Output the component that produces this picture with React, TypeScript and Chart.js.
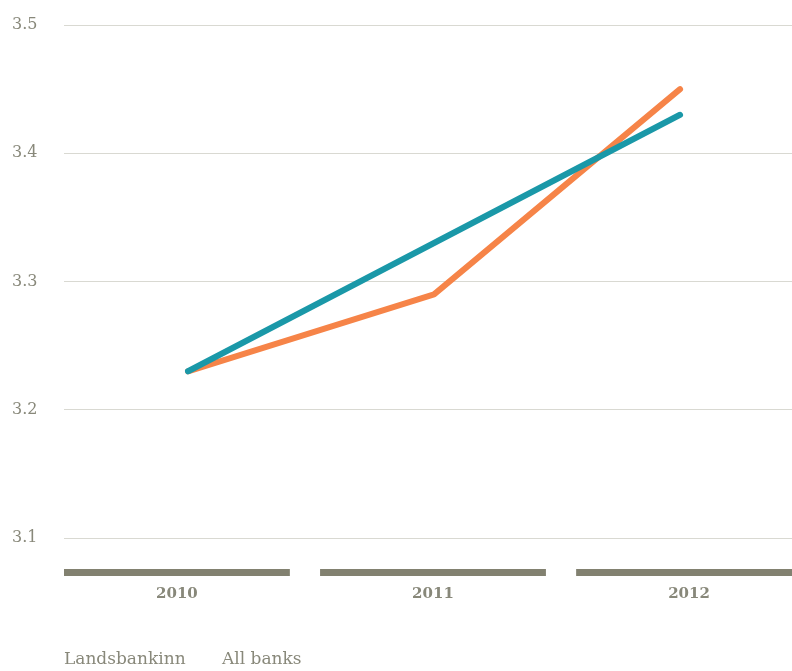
import React, { useEffect, useRef } from "react";
import { Chart, registerables } from "chart.js";
Chart.register(...registerables);

const years = ["2010", "2011", "2012"];
const landsbankinn = [3.23, 3.33, 3.43];
const allBanks = [3.23, 3.29, 3.45];
const yTicks = [3.1, 3.2, 3.3, 3.4, 3.5];
const seriesNames = ["Landsbankinn", "All banks"];

const GRAY = "#88887a";
const BAR = "#828170";
const TEAL = "#1a98a8";
const ORANGE = "#f68448";

const axisBars = {
  id: "axisBars",
  beforeDatasetsDraw(chart: any) {
    const xc = chart.scales.xc;
    const ctx = chart.ctx;
    const bottom = chart.chartArea.bottom;
    ctx.save();
    ctx.fillStyle = BAR;
    years.forEach((_, i) => {
      const x0 = xc.getPixelForValue(i - 0.441);
      const x1 = xc.getPixelForValue(i + 0.441);
      ctx.fillRect(x0, bottom + 31, x1 - x0, 7);
    });
    ctx.restore();
  },
};

const textLegend = {
  id: "textLegend",
  afterDraw(chart: any) {
    const ctx = chart.ctx;
    ctx.save();
    ctx.fillStyle = GRAY;
    ctx.font = "17px 'DejaVu Serif'";
    ctx.textBaseline = "alphabetic";
    ctx.textAlign = "left";
    const xs = [64, 222];
    chart.data.datasets.forEach((ds: any, i: number) => {
      ctx.fillText(ds.label, xs[i], 664);
    });
    ctx.restore();
  },
};

export default function App() {
  const ref = useRef<HTMLCanvasElement | null>(null);
  useEffect(() => {
    document.body.style.margin = "0";
    const chart = new Chart(ref.current as HTMLCanvasElement, {
      type: "line",
      data: {
        datasets: [
          {
            label: seriesNames[0],
            data: landsbankinn.map((v, i) => ({ x: i, y: v })),
            borderColor: TEAL,
            borderWidth: 6,
            borderCapStyle: "round",
            borderJoinStyle: "round",
            pointRadius: 0,
            xAxisID: "x",
          },
          {
            label: seriesNames[1],
            data: allBanks.map((v, i) => ({ x: i, y: v })),
            borderColor: ORANGE,
            borderWidth: 6,
            borderCapStyle: "round",
            borderJoinStyle: "round",
            pointRadius: 0,
            xAxisID: "x",
          },
        ],
      },
      options: {
        animation: false,
        responsive: true,
        maintainAspectRatio: false,
        layout: { padding: { top: 25, left: 12, right: 0, bottom: 0 } },
        plugins: { legend: { display: false }, tooltip: { enabled: false } },
        scales: {
          x: { type: "linear", display: false, min: -0.504, max: 2.455 },
          xc: {
            type: "linear",
            position: "bottom",
            min: -0.441,
            max: 2.402,
            afterBuildTicks: (s: any) => {
              s.ticks = years.map((_, i) => ({ value: i }));
            },
            afterFit: (s: any) => {
              s.height = 133;
            },
            grid: { display: false, drawTicks: false },
            border: { display: false },
            ticks: {
              padding: 47,
              color: GRAY,
              font: { family: "'DejaVu Serif'", size: 15, weight: "bold" },
              callback: (v: any) => years[v] ?? "",
              maxRotation: 0,
              autoSkip: false,
            },
          },
          y: {
            type: "linear",
            min: 3.1,
            max: 3.5,
            afterBuildTicks: (s: any) => {
              s.ticks = yTicks.map((v) => ({ value: v }));
            },
            afterFit: (s: any) => {
              s.width = 52;
            },
            grid: { color: "#d9d9d2", lineWidth: 1, drawTicks: false },
            border: { display: false },
            ticks: {
              crossAlign: "far",
              color: GRAY,
              font: { family: "'DejaVu Serif'", size: 16 },
              callback: (v: any) => Number(v).toFixed(1),
            },
          },
        },
      } as any,
      plugins: [axisBars, textLegend],
    });
    return () => chart.destroy();
  }, []);
  return (
    <div style={{ position: "relative", width: 792, height: 671 }}>
      <canvas ref={ref} style={{ display: "block" }} />
    </div>
  );
}
